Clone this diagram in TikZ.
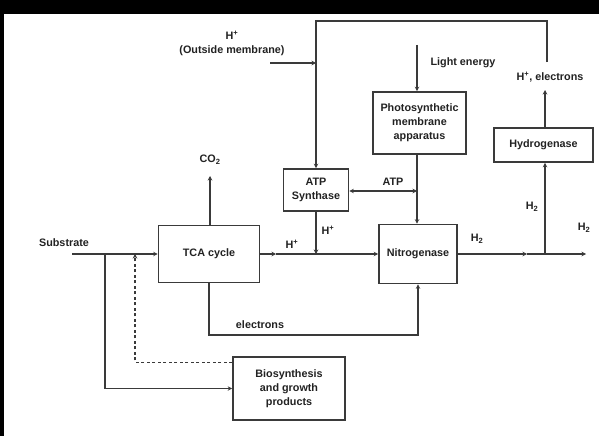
\documentclass[tikz,border=0pt]{standalone}
\usepackage{fontspec}
\setmainfont{Liberation Sans}
\usetikzlibrary{arrows.meta,calc}
\definecolor{ln}{HTML}{3A3A3A}
\definecolor{tx}{HTML}{222222}
\tikzset{
  box/.style={draw=ln,line width=1.6pt,fill=white,inner sep=0pt,align=center,text=tx,font=\fontsize{10.8}{14}\selectfont\bfseries},
  lbl/.style={text=tx,font=\fontsize{10.8}{14}\selectfont\bfseries,inner sep=0pt,align=center},
  con/.style={draw=ln,line width=1.1pt},
  arr/.style={con,-{Stealth[length=4.5pt,width=4.5pt]}},
  darr/.style={con,{Stealth[length=4.5pt,width=4.5pt]}-{Stealth[length=4.5pt,width=4.5pt]}},
}
\begin{document}
\begin{tikzpicture}[x=1pt,y=-1pt]
\fill[black] (0,0) rectangle (599,436);
\fill[white] (4,14) rectangle (599,436);
\useasboundingbox (0,0) rectangle (599,436);

% boxes
\node[box,minimum width=101pt,minimum height=57pt] (tca) at (209,254) {TCA cycle};
\node[box,minimum width=112pt,minimum height=63pt] (bio) at (289,388.5) {Biosynthesis\\and growth\\products};
\node[box,minimum width=65pt,minimum height=42pt] (atp) at (316,190) {ATP\\Synthase};
\node[box,minimum width=93pt,minimum height=62pt] (pho) at (419.5,123) {Photosynthetic\\membrane\\apparatus};
\node[box,minimum width=78pt,minimum height=59pt] (nit) at (418,254) {Nitrogenase};
\node[box,minimum width=99pt,minimum height=34pt] (hyd) at (543.5,145) {Hydrogenase};

% labels
\node[lbl] (lsub) at (64,243) {Substrate};
\node[lbl] (lco2) at (210,160) {CO\textsubscript{2}};
\node[lbl] (lhout) at (232,43) {H\textsuperscript{+}\\(Outside membrane)};
\node[lbl] (llight) at (463,63) {Light energy};
\node[lbl] (lhe) at (550,77) {H\textsuperscript{+}, electrons};
\node[lbl] (latp) at (393,182) {ATP};
\node[lbl] (lh1) at (292,244) {H\textsuperscript{+}};
\node[lbl] (lh2) at (328,230) {H\textsuperscript{+}};
\node[lbl] (lel) at (260,325) {electrons};
\node[lbl] (lh2a) at (477,239) {H\textsubscript{2}};
\node[lbl] (lh2b) at (532,207) {H\textsubscript{2}};
\node[lbl] (lh2c) at (584,228) {H\textsubscript{2}};

% coordinates
\coordinate (s0) at (72,254);
\coordinate (j1) at (105,254);
\coordinate (jd) at (135,254);
\coordinate (bd) at ($(bio.north west)+(0,6)$);
\coordinate (co2) at (210,176);
\coordinate (mh) at (276,254);
\coordinate (atpj) at (316,254);
\coordinate (top1) at (547,62);
\coordinate (top2) at (547,21);
\coordinate (top3) at (316,21);
\coordinate (hin) at (270,63);
\coordinate (hinj) at (316,63);
\coordinate (light0) at (417,45);
\coordinate (atpr) at (417,191);
\coordinate (elb) at (209,335);
\coordinate (h2m) at (527,254);
\coordinate (h2j) at (545,254);
\coordinate (h2e) at (586,254);
\coordinate (hyup) at (545,90);

% connectors
\draw[arr] (s0) -- (tca.west);
\draw[arr] (j1) |- (bio.west);
\draw[arr,dashed,dash pattern=on 3pt off 2.5pt] (bd) -| (jd);
\draw[arr] (tca.north -| co2) -- (co2);
\draw[arr] (tca.east) -- (mh);
\draw[arr] (mh) -- (nit.west);
\draw[arr] (atp.south) -- (atpj);
\draw[arr] (top1) -- (top2) -- (top3) -- (atp.north);
\draw[arr] (hin) -- (hinj);
\draw[arr] (light0) -- (light0 |- pho.north);
\draw[arr] (light0 |- pho.south) -- (light0 |- nit.north);
\draw[darr] (atp.east |- atpr) -- (atpr);
\draw[arr] (tca.south) -- (elb) -| (nit.south);
\draw[arr] (nit.east) -- (h2m);
\draw[arr] (h2m) -- (h2e);
\draw[arr] (h2j) -- (h2j |- hyd.south);
\draw[arr] (h2j |- hyd.north) -- (hyup);
\end{tikzpicture}
\end{document}
